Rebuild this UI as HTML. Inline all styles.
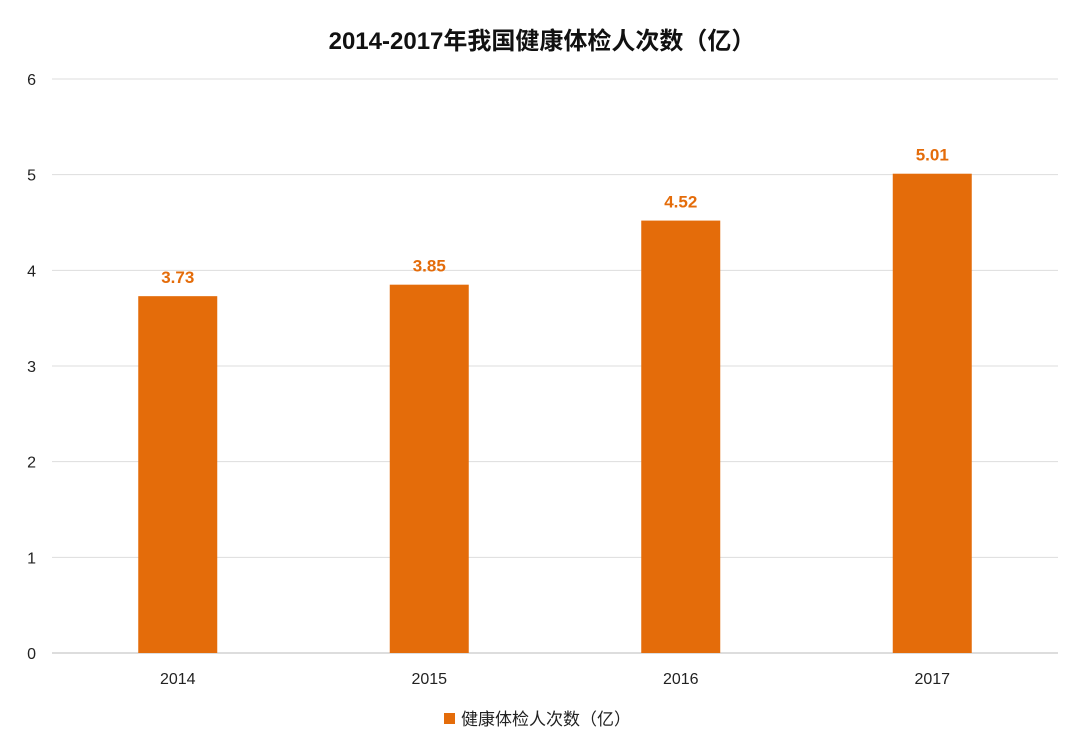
<!DOCTYPE html>
<html><head><meta charset="utf-8">
<style>
body{margin:0;background:#fff;}
svg{display:block;font-family:"Liberation Sans","Noto Sans CJK SC",sans-serif;}
</style></head>
<body>
<svg id="chart" width="1080" height="746" viewBox="0 0 1080 746">
<text x="542" y="49" text-anchor="middle" font-size="24" font-weight="bold" fill="#111">2014-2017年我国健康体检人次数（亿）</text>
<g id="grid"></g><g id="bars"></g><g id="labels"></g>
<g>
<rect x="444" y="713" width="11" height="11" fill="#E46C0A"/>
<text x="461" y="725" font-size="17" fill="#222">健康体检人次数（亿）</text>
</g>
</svg>
<script>
const categories=["2014","2015","2016","2017"];
const values=[3.73,3.85,4.52,5.01];
const yTicks=[0,1,2,3,4,5,6];
const NS="http://www.w3.org/2000/svg";
const x0=52,x1=1058,yBase=653,yTop=79,yMax=6;
const yScale=v=>yBase-(v/yMax)*(yBase-yTop);
const band=(x1-x0)/categories.length;
const xCenter=i=>x0+band*(i+0.5);
const barW=79;
function mk(tag,attrs,parent){const e=document.createElementNS(NS,tag);for(const k in attrs)e.setAttribute(k,attrs[k]);parent.appendChild(e);return e;}
const grid=document.getElementById('grid'),bars=document.getElementById('bars'),labels=document.getElementById('labels');
yTicks.forEach(t=>{
 const y=yScale(t);
 const l=mk('line',{x1:x0,x2:x1,y1:y,y2:y,stroke:t===0?'#bbb':'#ddd','stroke-width':1},grid);
 
 
 const tx=mk('text',{x:36,y:y+6,'text-anchor':'end','font-size':16,fill:'#222'},grid);
 tx.textContent=t;
 
 
});
categories.forEach((c,i)=>{
 const cx=xCenter(i),y=yScale(values[i]);
 const r=mk('rect',{x:cx-barW/2,y:y,width:barW,height:yBase-y,fill:'#E46C0A'},bars);
 
 
 const v=mk('text',{x:cx,y:y-13,'text-anchor':'middle','font-size':17,'font-weight':'bold',fill:'#E46C0A'},labels);
 v.textContent=values[i].toFixed(2);
 
 
 const xl=mk('text',{x:cx,y:684,'text-anchor':'middle','font-size':16,fill:'#222'},labels);
 xl.textContent=c;
 
 
});
</script>
</body></html>
